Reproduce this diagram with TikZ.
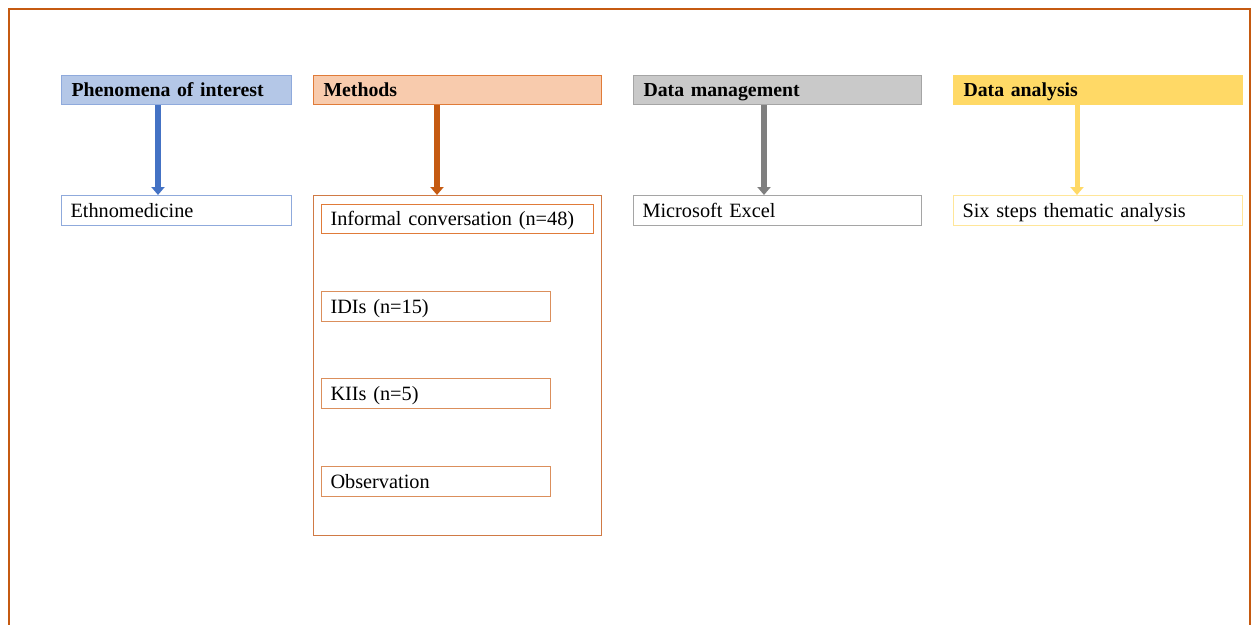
\documentclass[tikz,border=0pt]{standalone}
\usepackage{fontspec}
\setmainfont{Liberation Serif}
\usetikzlibrary{arrows.meta}
\definecolor{frame}{HTML}{C55A11}
\definecolor{bfill}{HTML}{B4C7E7}
\definecolor{bline}{HTML}{8FAADC}
\definecolor{barrow}{HTML}{4472C4}
\definecolor{ofill}{HTML}{F8CBAD}
\definecolor{oline}{HTML}{E07B39}
\definecolor{oarrow}{HTML}{C55A11}
\definecolor{obox}{HTML}{D07A45}
\definecolor{oinner}{HTML}{DB8F5C}
\definecolor{gfill}{HTML}{C9C9C9}
\definecolor{gline}{HTML}{A5A5A5}
\definecolor{garrow}{HTML}{7F7F7F}
\definecolor{yfill}{HTML}{FFD966}
\definecolor{yline}{HTML}{FFE699}
\tikzset{
  hdr/.style={anchor=north west, minimum height=29pt, inner xsep=10pt, inner ysep=0pt,
    text height=15.5pt, text depth=2.5pt,
    align=left, font=\fontsize{19.8}{22}\selectfont\bfseries, line width=1pt},
  itembox/.style={anchor=north west, minimum height=30pt, inner xsep=9pt, inner ysep=0pt,
    text height=15.5pt, text depth=2.5pt,
    align=left, font=\fontsize{20.3}{22}\selectfont, line width=1pt, fill=white},
  arr/.style={line width=6pt, -{Triangle[width=13pt,length=8pt]}}
}
\begin{document}
\begin{tikzpicture}[x=1pt,y=-1pt]
\useasboundingbox (0,0) rectangle (1253,624);
\draw[frame, line width=2pt] (9,640) -- (9,9) -- (1250,9) -- (1250,640);
% headers
\node[hdr, fill=bfill, draw=bline, text width=210pt] (h1) at (61,75) {Phenomena of interest};
\node[hdr, fill=ofill, draw=oline, text width=268pt] (h2) at (313,75) {Methods};
\node[hdr, fill=gfill, draw=gline, text width=268pt] (h3) at (633,75) {Data management};
\node[hdr, fill=yfill, draw=yfill, text width=269pt] (h4) at (953,75) {Data analysis};
% lower boxes
\node[itembox, draw=bline, text width=212pt] (e1) at (61,195) {Ethnomedicine};
\node[anchor=north west, draw=obox, line width=1pt, minimum width=288pt, minimum height=340pt, inner sep=0pt] (m) at (313,195) {};
\node[itembox, draw=gline, text width=270pt] (e3) at (633,195) {Microsoft Excel};
\node[itembox, draw=yline, text width=271pt] (e4) at (953,195) {Six steps thematic analysis};
% methods items
\node[itembox, draw=oline, text width=254pt, minimum height=29pt] (m1) at (321,204) {Informal conversation (n=48)};
\node[itembox, draw=oinner, text width=211pt] (m2) at (321,291) {IDIs (n=15)};
\node[itembox, draw=oinner, text width=211pt] (m3) at (321,378) {KIIs (n=5)};
\node[itembox, draw=oinner, text width=211pt] (m4) at (321,466) {Observation};
% arrows
\coordinate (a1) at (158,0);
\coordinate (a2) at (437,0);
\coordinate (a3) at (764,0);
\coordinate (a4) at (1077,0);
\draw[arr, barrow] (h1.south -| a1) -- (e1.north -| a1);
\draw[arr, oarrow] (h2.south -| a2) -- (m.north -| a2);
\draw[arr, garrow] (h3.south -| a3) -- (e3.north -| a3);
\draw[arr, yfill, line width=5pt] (h4.south -| a4) -- (e4.north -| a4);
\end{tikzpicture}
\end{document}
